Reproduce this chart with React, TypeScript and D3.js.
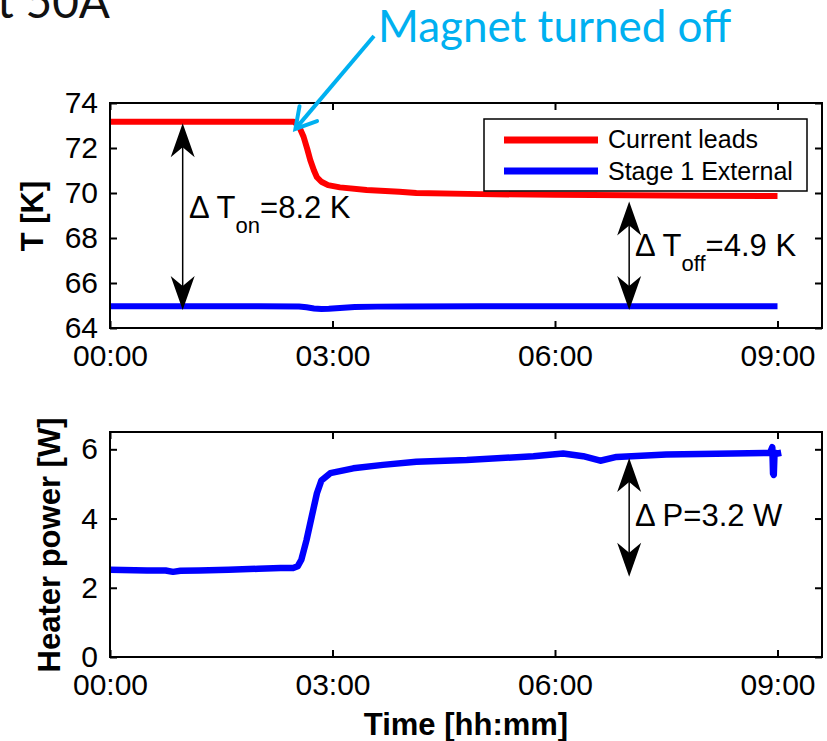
import React, { useRef, useEffect } from 'react';
import * as d3 from 'd3';

// time in hours since start
const leadsTime = [0, 0.5, 1, 1.5, 2, 2.3, 2.48, 2.55, 2.61, 2.66, 2.7, 2.75, 2.79, 2.85, 2.94, 3.1, 3.46, 3.9, 4.13, 5, 6, 7, 8, 9];
const leadsTemp = [73.17, 73.17, 73.17, 73.17, 73.17, 73.17, 73.17, 72.95, 72.5, 71.95, 71.47, 71.0, 70.7, 70.5, 70.35, 70.25, 70.13, 70.06, 70.0, 69.95, 69.92, 69.9, 69.88, 69.87];

const stageTime = [0, 1, 2, 2.55, 2.65, 2.75, 2.85, 2.95, 3.1, 3.3, 3.6, 4, 5, 6, 7, 8, 9];
const stageTemp = [64.97, 64.97, 64.97, 64.96, 64.92, 64.87, 64.85, 64.86, 64.89, 64.93, 64.95, 64.96, 64.97, 64.97, 64.97, 64.97, 64.97];

const heaterTime = [0, 0.5, 0.75, 0.85, 0.95, 1.2, 1.6, 2, 2.3, 2.47, 2.53, 2.58, 2.65, 2.72, 2.79, 2.85, 2.97, 3.28, 3.68, 4.13, 4.81, 5.71, 6.11, 6.38, 6.61, 6.83, 7.5, 8.4, 8.9, 8.93, 8.94, 8.95, 8.96, 9.0, 9.05];
const heaterPower = [2.52, 2.5, 2.5, 2.46, 2.49, 2.5, 2.52, 2.55, 2.57, 2.57, 2.62, 2.81, 3.38, 4.06, 4.73, 5.1, 5.31, 5.45, 5.55, 5.64, 5.69, 5.8, 5.88, 5.8, 5.67, 5.78, 5.85, 5.88, 5.9, 6.06, 5.3, 5.26, 5.9, 5.88, 5.9];

const timeTicks = [0, 3, 6, 9];
const tempTicks = [64, 66, 68, 70, 72, 74];
const powerTicks = [0, 2, 4, 6];
const legendLabels = ['Current leads', 'Stage 1 External'];

const FONT = '"Liberation Sans", Arial, sans-serif';

export default function App() {
  const ref = useRef<SVGSVGElement>(null);

  useEffect(() => {
    const svg = d3.select(ref.current);
    svg.selectAll('*').remove();

    const x = d3.scaleLinear().domain([0, 9.6]).range([110, 822]);
    const yT = d3.scaleLinear().domain([64, 74]).range([328, 103]);
    const yP = d3.scaleLinear().domain([0, 6.5]).range([657, 432]);
    const fmt = (d: any) => `0${d}:00`;

    const styleAxis = (g: any) => {
      g.select('.domain').remove();
      g.attr('font-size', 30).attr('font-family', FONT);
      g.selectAll('.tick line').attr('stroke', '#000').attr('stroke-width', 2);
      g.selectAll('.tick text').attr('fill', '#000');
    };

    const drawFrame = (y: any, yTicks: number[]) => {
      const [y0, y1] = y.range();
      svg.append('g').attr('transform', `translate(0,${y0})`)
        .call(d3.axisBottom(x).tickValues(timeTicks).tickFormat(fmt).tickSizeInner(-7).tickSizeOuter(0).tickPadding(17))
        .call(styleAxis);
      svg.append('g').attr('transform', `translate(0,${y1})`)
        .call(d3.axisTop(x).tickValues(timeTicks).tickFormat(() => '').tickSizeInner(-7).tickSizeOuter(0))
        .call(styleAxis);
      svg.append('g').attr('transform', `translate(110,0)`)
        .call(d3.axisLeft(y).tickValues(yTicks).tickFormat(d3.format('d')).tickSizeInner(-7).tickSizeOuter(0).tickPadding(12))
        .call(styleAxis);
      svg.append('g').attr('transform', `translate(822,0)`)
        .call(d3.axisRight(y).tickValues(yTicks).tickFormat(() => '').tickSizeInner(-7).tickSizeOuter(0))
        .call(styleAxis);
      svg.append('rect')
        .attr('x', 110).attr('y', y1).attr('width', 712).attr('height', y0 - y1)
        .attr('fill', 'none').attr('stroke', '#000').attr('stroke-width', 2);
    };

    const line = (xs: number[], ys: number[], y: any) =>
      d3.line<number>().x((_, i) => x(xs[i])).y((d) => y(d))(ys);

    // data lines
    svg.append('path').attr('d', line(stageTime, stageTemp, yT))
      .attr('fill', 'none').attr('stroke', '#0000ff').attr('stroke-width', 6);
    svg.append('path').attr('d', line(leadsTime, leadsTemp, yT))
      .attr('fill', 'none').attr('stroke', '#ff0000').attr('stroke-width', 6).attr('stroke-linejoin', 'round');
    svg.append('path').attr('d', line(heaterTime, heaterPower, yP))
      .attr('fill', 'none').attr('stroke', '#0000ff').attr('stroke-width', 6.5).attr('stroke-linejoin', 'round');

    drawFrame(yT, tempTicks);
    drawFrame(yP, powerTicks);

    // axis labels
    svg.append('text').attr('transform', 'translate(43,216) rotate(-90)')
      .attr('text-anchor', 'middle').attr('font-family', FONT).attr('font-weight', 'bold')
      .attr('font-size', 31).text('T [K]');
    svg.append('text').attr('transform', 'translate(60,545) rotate(-90)')
      .attr('text-anchor', 'middle').attr('font-family', FONT).attr('font-weight', 'bold')
      .attr('font-size', 31).text('Heater power [W]');
    svg.append('text').attr('x', 466).attr('y', 735)
      .attr('text-anchor', 'middle').attr('font-family', FONT).attr('font-weight', 'bold')
      .attr('font-size', 31).text('Time [hh:mm]');

    // legend
    const lg = svg.append('g');
    lg.append('rect').attr('x', 484).attr('y', 119).attr('width', 323).attr('height', 72)
      .attr('fill', '#fff').attr('stroke', '#000').attr('stroke-width', 1.5);
    ['#ff0000', '#0000ff'].forEach((c, i) => {
      lg.append('line').attr('x1', 504).attr('x2', 598).attr('y1', 140 + i * 31).attr('y2', 140 + i * 31)
        .attr('stroke', c).attr('stroke-width', 7);
      lg.append('text').attr('x', 608).attr('y', 148 + i * 32)
        .attr('font-family', FONT).attr('font-size', 25).text(legendLabels[i]);
    });

    // double-headed arrows
    const dblArrow = (t: number, yTop: number, yBot: number) => {
      const cx = x(t);
      const g = svg.append('g');
      g.append('line').attr('x1', cx).attr('x2', cx).attr('y1', yTop + 10).attr('y2', yBot - 10)
        .attr('stroke', '#000').attr('stroke-width', 1.5);
      const L = 34, W = 12, N = 24;
      g.append('path').attr('d', `M${cx},${yTop} L${cx + W},${yTop + L} L${cx},${yTop + N} L${cx - W},${yTop + L} Z`).attr('fill', '#000');
      g.append('path').attr('d', `M${cx},${yBot} L${cx + W},${yBot - L} L${cx},${yBot - N} L${cx - W},${yBot - L} Z`).attr('fill', '#000');
    };
    dblArrow(0.98, yT(73.1), yT(64.8));
    dblArrow(7.0, yT(69.62), yT(64.8));
    dblArrow(7.0, yP(5.75), yP(2.32));

    const note = (xx: number, yy: number, pre: string, sub: string, post: string) => {
      const t = svg.append('text').attr('x', xx).attr('y', yy).attr('font-family', FONT).attr('font-size', 31);
      t.append('tspan').text(pre);
      if (sub) {
        t.append('tspan').attr('font-size', 22).attr('dy', 15).text(sub);
        t.append('tspan').attr('dy', -15).text(post);
      }
    };
    note(189, 218, '\u0394 T', 'on', '=8.2 K');
    note(635, 256, '\u0394 T', 'off', '=4.9 K');
    note(635, 526, '\u0394 P=3.2 W', '', '');

    // title fragment and callout
    svg.append('text').attr('x', 110).attr('y', 18).attr('text-anchor', 'end')
      .attr('font-family', 'Lato, sans-serif').attr('font-size', 46).attr('fill', '#111').text('t 50A');
    svg.append('text').attr('x', 378).attr('y', 42)
      .attr('font-family', 'Lato, sans-serif').attr('font-size', 44).attr('fill', '#00b0f0').text('Magnet turned off');

    const tipX = x(2.5), tipY = yT(72.85);
    const sx = 374, sy = 36;
    const ang = Math.atan2(sy - tipY, sx - tipX);
    const wing = 23, spread = Math.PI / 6;
    svg.append('line').attr('x1', sx).attr('y1', sy).attr('x2', tipX).attr('y2', tipY)
      .attr('stroke', '#00b0f0').attr('stroke-width', 4);
    svg.append('path')
      .attr('d', `M${tipX + wing * Math.cos(ang + spread)},${tipY + wing * Math.sin(ang + spread)} L${tipX},${tipY} L${tipX + wing * Math.cos(ang - spread)},${tipY + wing * Math.sin(ang - spread)}`)
      .attr('fill', 'none').attr('stroke', '#00b0f0').attr('stroke-width', 4).attr('stroke-linecap', 'round');
  }, []);

  return (
    <svg
      ref={ref}
      width={827}
      height={741}
      style={{ position: 'absolute', left: 0, top: 0, background: '#fff' }}
    />
  );
}
